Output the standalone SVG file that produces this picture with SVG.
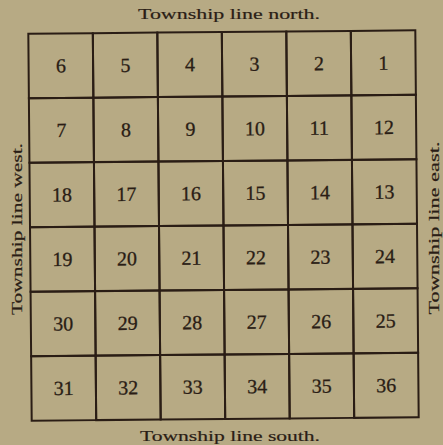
<svg xmlns="http://www.w3.org/2000/svg" width="443" height="445" viewBox="0 0 443 445">
<style>
.bg{fill:#b7aa84}
.cell{fill:none;stroke:#2a1d15;stroke-width:2}
.num{font-family:"Liberation Serif","DejaVu Serif",serif;font-size:20px;fill:#2a1d15;stroke:#2a1d15;stroke-width:0.3;text-anchor:middle}
.lbl{font-family:"Liberation Serif","DejaVu Serif",serif;font-size:15.5px;fill:#2a1d15;stroke:#2a1d15;stroke-width:0.2;text-anchor:middle}
</style>
<rect class="bg" x="0" y="0" width="443" height="445"/>
<text class="lbl" x="229" y="19" textLength="182" lengthAdjust="spacingAndGlyphs">Township line north.</text>
<text class="lbl" x="230" y="441" textLength="180" lengthAdjust="spacingAndGlyphs">Township line south.</text>
<text class="lbl" transform="translate(22,229) rotate(-90)" x="0" y="0" textLength="172" lengthAdjust="spacingAndGlyphs">Township line west.</text>
<text class="lbl" transform="translate(439,228) rotate(-90)" x="0" y="0" textLength="173" lengthAdjust="spacingAndGlyphs">Township line east.</text>
<g transform="rotate(-0.5 224 225)">
<g id="s6"><rect class="cell" x="30" y="32" width="64.5" height="64.5"/><text class="num" x="62.25" y="71">6</text></g>
<g id="s5"><rect class="cell" x="94.5" y="32" width="64.5" height="64.5"/><text class="num" x="126.75" y="71">5</text></g>
<g id="s4"><rect class="cell" x="159" y="32" width="64.5" height="64.5"/><text class="num" x="191.25" y="71">4</text></g>
<g id="s3"><rect class="cell" x="223.5" y="32" width="64.5" height="64.5"/><text class="num" x="255.75" y="71">3</text></g>
<g id="s2"><rect class="cell" x="288" y="32" width="64.5" height="64.5"/><text class="num" x="320.25" y="71">2</text></g>
<g id="s1"><rect class="cell" x="352.5" y="32" width="64.5" height="64.5"/><text class="num" x="384.75" y="71">1</text></g>
<g id="s7"><rect class="cell" x="30" y="96.5" width="64.5" height="64.5"/><text class="num" x="62.25" y="135.5">7</text></g>
<g id="s8"><rect class="cell" x="94.5" y="96.5" width="64.5" height="64.5"/><text class="num" x="126.75" y="135.5">8</text></g>
<g id="s9"><rect class="cell" x="159" y="96.5" width="64.5" height="64.5"/><text class="num" x="191.25" y="135.5">9</text></g>
<g id="s10"><rect class="cell" x="223.5" y="96.5" width="64.5" height="64.5"/><text class="num" x="255.75" y="135.5">10</text></g>
<g id="s11"><rect class="cell" x="288" y="96.5" width="64.5" height="64.5"/><text class="num" x="320.25" y="135.5">11</text></g>
<g id="s12"><rect class="cell" x="352.5" y="96.5" width="64.5" height="64.5"/><text class="num" x="384.75" y="135.5">12</text></g>
<g id="s18"><rect class="cell" x="30" y="161" width="64.5" height="64.5"/><text class="num" x="62.25" y="200">18</text></g>
<g id="s17"><rect class="cell" x="94.5" y="161" width="64.5" height="64.5"/><text class="num" x="126.75" y="200">17</text></g>
<g id="s16"><rect class="cell" x="159" y="161" width="64.5" height="64.5"/><text class="num" x="191.25" y="200">16</text></g>
<g id="s15"><rect class="cell" x="223.5" y="161" width="64.5" height="64.5"/><text class="num" x="255.75" y="200">15</text></g>
<g id="s14"><rect class="cell" x="288" y="161" width="64.5" height="64.5"/><text class="num" x="320.25" y="200">14</text></g>
<g id="s13"><rect class="cell" x="352.5" y="161" width="64.5" height="64.5"/><text class="num" x="384.75" y="200">13</text></g>
<g id="s19"><rect class="cell" x="30" y="225.5" width="64.5" height="64.5"/><text class="num" x="62.25" y="264.5">19</text></g>
<g id="s20"><rect class="cell" x="94.5" y="225.5" width="64.5" height="64.5"/><text class="num" x="126.75" y="264.5">20</text></g>
<g id="s21"><rect class="cell" x="159" y="225.5" width="64.5" height="64.5"/><text class="num" x="191.25" y="264.5">21</text></g>
<g id="s22"><rect class="cell" x="223.5" y="225.5" width="64.5" height="64.5"/><text class="num" x="255.75" y="264.5">22</text></g>
<g id="s23"><rect class="cell" x="288" y="225.5" width="64.5" height="64.5"/><text class="num" x="320.25" y="264.5">23</text></g>
<g id="s24"><rect class="cell" x="352.5" y="225.5" width="64.5" height="64.5"/><text class="num" x="384.75" y="264.5">24</text></g>
<g id="s30"><rect class="cell" x="30" y="290" width="64.5" height="64.5"/><text class="num" x="62.25" y="329">30</text></g>
<g id="s29"><rect class="cell" x="94.5" y="290" width="64.5" height="64.5"/><text class="num" x="126.75" y="329">29</text></g>
<g id="s28"><rect class="cell" x="159" y="290" width="64.5" height="64.5"/><text class="num" x="191.25" y="329">28</text></g>
<g id="s27"><rect class="cell" x="223.5" y="290" width="64.5" height="64.5"/><text class="num" x="255.75" y="329">27</text></g>
<g id="s26"><rect class="cell" x="288" y="290" width="64.5" height="64.5"/><text class="num" x="320.25" y="329">26</text></g>
<g id="s25"><rect class="cell" x="352.5" y="290" width="64.5" height="64.5"/><text class="num" x="384.75" y="329">25</text></g>
<g id="s31"><rect class="cell" x="30" y="354.5" width="64.5" height="64.5"/><text class="num" x="62.25" y="393.5">31</text></g>
<g id="s32"><rect class="cell" x="94.5" y="354.5" width="64.5" height="64.5"/><text class="num" x="126.75" y="393.5">32</text></g>
<g id="s33"><rect class="cell" x="159" y="354.5" width="64.5" height="64.5"/><text class="num" x="191.25" y="393.5">33</text></g>
<g id="s34"><rect class="cell" x="223.5" y="354.5" width="64.5" height="64.5"/><text class="num" x="255.75" y="393.5">34</text></g>
<g id="s35"><rect class="cell" x="288" y="354.5" width="64.5" height="64.5"/><text class="num" x="320.25" y="393.5">35</text></g>
<g id="s36"><rect class="cell" x="352.5" y="354.5" width="64.5" height="64.5"/><text class="num" x="384.75" y="393.5">36</text></g>
</g>
<g id="connectors"/>
</svg>
